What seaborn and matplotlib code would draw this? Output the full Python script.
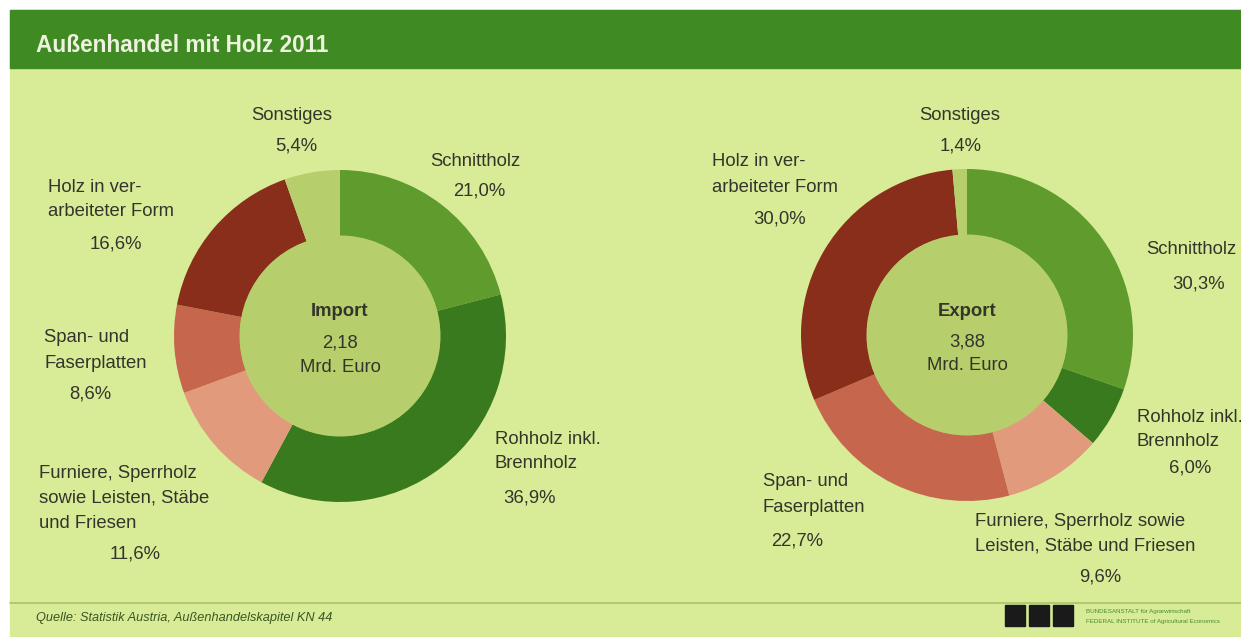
import numpy as np
import matplotlib.pyplot as plt
import seaborn as sns
from matplotlib import font_manager as fm
from matplotlib.patches import Circle, Rectangle

# data
categories = ["Schnittholz", "Rohholz inkl. Brennholz",
              "Furniere, Sperrholz sowie Leisten, Stäbe und Friesen",
              "Span- und Faserplatten", "Holz in verarbeiteter Form", "Sonstiges"]
import_share = [21.0, 36.9, 11.6, 8.6, 16.6, 5.4]
export_share = [30.3, 6.0, 9.6, 22.7, 30.0, 1.4]
import_total = "2,18"
export_total = "3,88"

seg_colors = ["#5f9b2d", "#3a7a1e", "#e29a7c", "#c6664c", "#8a2e1c", "#b6cf6c"]
bg = "#d8ec98"
inner = "#b6cf6c"
header = "#3f8a22"
txt = "#34352a"
FS = 13.3

sns.set_theme(style="white")
plt.rcParams["font.family"] = ["Liberation Sans", "DejaVu Sans"]

# regular-width bold face (avoid the narrow variant)
bold_file = None
for f in fm.fontManager.ttflist:
    if (f.name == "Liberation Sans" and f.weight in (700, "bold")
            and f.style == "normal" and "Narrow" not in f.fname):
        bold_file = f.fname
        break


def bold(size):
    if bold_file:
        return fm.FontProperties(fname=bold_file, size=size)
    return fm.FontProperties(family="DejaVu Sans", weight="bold", size=size)


W, H = 1241, 637
fig = plt.figure(figsize=(W / 100, H / 100), dpi=100, facecolor="white")
ax = fig.add_axes([0, 0, 1, 1])


def Y(y):
    return H - y


# background + header
ax.add_patch(Rectangle((10, 0), W - 10, H - 10, color=bg, zorder=0))
ax.add_patch(Rectangle((10, Y(68)), W - 10, 58, color=header, zorder=1))
ax.text(36, Y(45), "Außenhandel mit Holz 2011", color="#eef3e0",
        fontproperties=bold(16.3), va="center", ha="left", zorder=2)


def donut(cx, cy, shares, title, total):
    ax.pie(shares, colors=seg_colors, startangle=90, counterclock=False,
           center=(cx, Y(cy)), radius=166,
           wedgeprops=dict(width=66, linewidth=0))
    ax.add_patch(Circle((cx, Y(cy)), 100.5, color=inner, lw=0, zorder=3))
    ax.text(cx, Y(cy - 24), title, ha="center", va="center",
            fontproperties=bold(FS), color=txt, zorder=4)
    ax.text(cx, Y(cy + 7), total, ha="center", va="center", fontsize=FS,
            color=txt, zorder=4)
    ax.text(cx, Y(cy + 31), "Mrd. Euro", ha="center", va="center", fontsize=FS,
            color=txt, zorder=4)


def pct(v):
    return f"{v:.1f}%".replace(".", ",")


def label(lines, x, y, ha, px, py, value):
    for i, line in enumerate(lines):
        ax.text(x, Y(y + i * 25), line, ha=ha, va="center", fontsize=FS,
                color=txt, zorder=4)
    ax.text(px, Y(py), pct(value), ha="center", va="center", fontsize=FS,
            color=txt, zorder=4)


donut(340, 336, import_share, "Import", import_total)
donut(967, 335, export_share, "Export", export_total)

# import labels
label(["Schnittholz"], 475, 161, "center", 479, 191, import_share[0])
label(["Rohholz inkl.", "Brennholz"], 495, 439, "left", 529, 498, import_share[1])
label(["Furniere, Sperrholz", "sowie Leisten, Stäbe", "und Friesen"], 39, 473, "left",
      135, 554, import_share[2])
label(["Span- und", "Faserplatten"], 44, 338, "left", 90, 394, import_share[3])
label(["Holz in ver-", "arbeiteter Form"], 48, 187, "left", 116, 244, import_share[4])
label(["Sonstiges"], 292, 116, "center", 296, 146, import_share[5])

# export labels
label(["Schnittholz"], 1146, 250, "left", 1199, 284, export_share[0])
label(["Rohholz inkl.", "Brennholz"], 1137, 417, "left", 1190, 468, export_share[1])
label(["Furniere, Sperrholz sowie", "Leisten, Stäbe und Friesen"], 975, 521, "left",
      1100, 577, export_share[2])
label(["Span- und", "Faserplatten"], 763, 482, "left", 797, 541, export_share[3])
label(["Holz in ver-", "arbeiteter Form"], 712, 162, "left", 780, 219, export_share[4])
label(["Sonstiges"], 960, 116, "center", 961, 146, export_share[5])

# footer
ax.plot([10, W], [Y(603), Y(603)], color="#a9c26c", lw=1.2, zorder=2)
ax.text(36, Y(618), "Quelle: Statistik Austria, Außenhandelskapitel KN 44",
        fontsize=9.2, style="italic", color="#3a5522", va="center", ha="left")
for x0 in [1005, 1029, 1053]:
    ax.add_patch(Rectangle((x0, Y(626)), 20, 21, color="#1a1a1a", zorder=3))
ax.text(1086, Y(611), "BUNDESANSTALT für Agrarwirtschaft", fontsize=4.5,
        color="#4a8a30", va="center", ha="left")
ax.text(1086, Y(622), "FEDERAL INSTITUTE of Agricultural Economics", fontsize=4.5,
        color="#4a8a30", va="center", ha="left")

ax.set_xlim(0, W)
ax.set_ylim(0, H)
ax.set_aspect("equal")
ax.axis("off")

fig.savefig("out.png", dpi=100, facecolor="white")
